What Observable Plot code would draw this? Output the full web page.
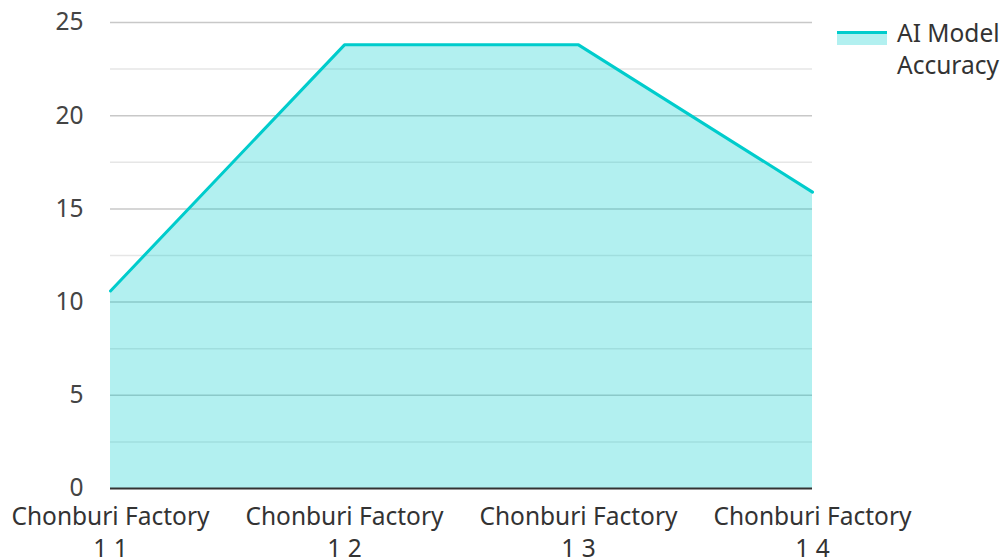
<!DOCTYPE html>
<html>
<head>
<meta charset="utf-8">
<script src="https://cdn.jsdelivr.net/npm/d3@7"></script>
<script src="https://cdn.jsdelivr.net/npm/@observablehq/plot@0.6"></script>
<style>
  html, body { margin: 0; padding: 0; background: #fff; }
  #wrap { position: relative; width: 1002px; height: 560px; overflow: hidden; font-family: "Noto Sans", sans-serif; }
  #legend { position: absolute; left: 837px; top: 17px; display: flex; align-items: flex-start; color: #333; font-size: 24.5px; line-height: 32px; }
  #legend .sw { width: 50px; height: 14px; margin-top: 14px; margin-right: 10px; border-top: 3px solid #00cccc; background: rgba(0,204,204,0.3); box-sizing: border-box; }
</style>
</head>
<body>
<div id="wrap">
  <div id="chart"></div>
  <div id="legend"><div class="sw"></div><div>AI Model<br>Accuracy</div></div>
</div>
<script>
const categories = ["Chonburi Factory\n1 1", "Chonburi Factory\n1 2", "Chonburi Factory\n1 3", "Chonburi Factory\n1 4"];
const accuracy = [10.6, 23.8, 23.8, 15.9];
const yTicks = [0, 5, 10, 15, 20, 25];
const minorTicks = [2.5, 7.5, 12.5, 17.5, 22.5];
const majorGrid = [5, 10, 15, 20, 25];

const data = categories.map((c, i) => ({cat: c, value: accuracy[i]}));

const chart = Plot.plot({
  width: 1002,
  height: 560,
  marginLeft: 110,
  marginRight: 190,
  marginTop: 22,
  marginBottom: 72,
  style: {fontFamily: "Noto Sans", fontSize: "24.5px", color: "#444", background: "#fff"},
  x: {type: "point", domain: categories, padding: 0, label: null},
  y: {domain: [0, 25], label: null},
  marks: [
    Plot.ruleY(minorTicks, {stroke: "#e6e6e6", strokeWidth: 1.5}),
    Plot.ruleY(majorGrid, {stroke: "#c8c8c8", strokeWidth: 1.5}),
    Plot.areaY(data, {x: "cat", y: "value", fill: "#00cccc", fillOpacity: 0.3}),
    Plot.lineY(data, {x: "cat", y: "value", stroke: "#00cccc", strokeWidth: 3}),
    Plot.ruleY([0], {stroke: "#333", strokeWidth: 2}),
    Plot.axisY({ticks: yTicks, tickSize: 0, tickPadding: 27, fontSize: 24.5, fill: "#444", label: null}),
    Plot.axisX({tickSize: 0, tickPadding: 14, fontSize: 24.5, lineHeight: 1.3, fill: "#333", label: null})
  ]
});
document.getElementById("chart").appendChild(chart);
</script>
</body>
</html>
